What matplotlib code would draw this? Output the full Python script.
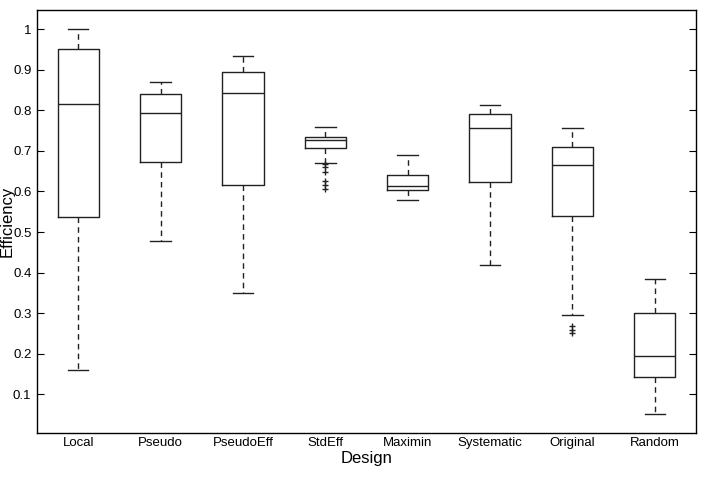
import matplotlib
matplotlib.use("Agg")
import matplotlib.pyplot as plt

categories = ["Local", "Pseudo", "PseudoEff", "StdEff", "Maximin", "Systematic", "Original", "Random"]
whislo = [0.161, 0.478, 0.351, 0.670, 0.580, 0.419, 0.295, 0.052]
q1     = [0.538, 0.673, 0.617, 0.707, 0.604, 0.624, 0.540, 0.144]
med    = [0.815, 0.794, 0.843, 0.726, 0.614, 0.757, 0.666, 0.194]
q3     = [0.951, 0.841, 0.895, 0.735, 0.641, 0.791, 0.710, 0.300]
whishi = [1.000, 0.870, 0.934, 0.760, 0.690, 0.813, 0.757, 0.384]
fliers = [[], [], [], [0.668, 0.660, 0.648, 0.625, 0.615, 0.607], [], [], [0.269, 0.259, 0.252], []]
yticks = [0.1, 0.2, 0.3, 0.4, 0.5, 0.6, 0.7, 0.8, 0.9, 1.0]
yticklabels = ["0.1", "0.2", "0.3", "0.4", "0.5", "0.6", "0.7", "0.8", "0.9", "1"]

stats = []
for i, c in enumerate(categories):
    stats.append(dict(label=c, whislo=whislo[i], q1=q1[i], med=med[i], q3=q3[i],
                      whishi=whishi[i], fliers=fliers[i]))

fig = plt.figure(figsize=(7.01, 4.80), dpi=100)
ax = fig.add_axes([37/701, 47/480, 659/701, 423/480])
ax.bxp(stats, positions=range(1, 9), widths=0.5, showfliers=True,
       boxprops=dict(color="#222222", linewidth=1.0),
       medianprops=dict(color="#222222", linewidth=1.0),
       whiskerprops=dict(color="#222222", linewidth=1.0, linestyle=(0, (4, 3))),
       capprops=dict(color="#222222", linewidth=1.0),
       flierprops=dict(marker="+", markeredgecolor="#222222", markersize=5, linestyle="none"),
       capwidths=0.25)
ax.set_xlim(0.5, 8.5)
ax.set_ylim(0.005, 1.047)
ax.set_yticks(yticks)
ax.set_yticklabels(yticklabels, family="Liberation Sans", fontsize=9.5)
ax.set_xticks(range(1, 9))
ax.set_xticklabels(categories, family="Liberation Sans", fontsize=9.5)
ax.tick_params(axis="x", length=0, pad=3)
ax.tick_params(axis="y", direction="in", length=5, right=True, width=0.8, pad=4)
for s in ax.spines.values():
    s.set_linewidth(1.0)
ax.set_xlabel("Design", family="Liberation Sans", fontsize=12, labelpad=1.5)
ax.set_ylabel("Efficiency", family="Liberation Sans", fontsize=12)
ax.yaxis.set_label_coords(-0.034, 0.5)
fig.savefig("out.png", dpi=100)
